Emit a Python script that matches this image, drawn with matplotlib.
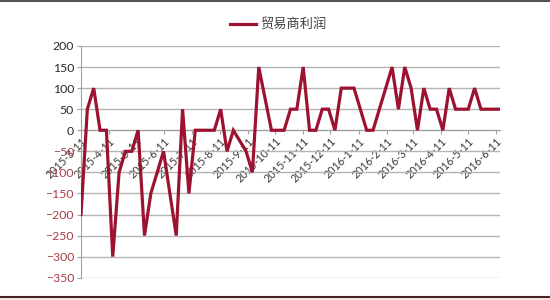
import matplotlib
matplotlib.use("Agg")
import matplotlib.pyplot as plt
from matplotlib.lines import Line2D
from matplotlib.patches import Rectangle
from matplotlib.ticker import FixedLocator, FixedFormatter
import matplotlib.dates as mdates
import pandas as pd

plt.rcParams['font.family'] = ['Lato', 'Noto Sans CJK SC', 'DejaVu Sans']

series_name = "贸易商利润"
start_date = "2015-03-11"
values = [-200, 50, 100, 0, 0, -300, -100, -50, -50, 0,
          -250, -150, -100, -50, -150, -250, 50, -150, 0, 0,
          0, 0, 50, -50, 0, -25, -50, -100, 150, 75,
          0, 0, 0, 50, 50, 150, 0, 0, 50, 50,
          0, 100, 100, 100, 50, 0, 0, 50, 100, 150,
          50, 150, 100, 0, 100, 50, 50, 0, 100, 50,
          50, 50, 100, 50, 50, 50, 50]
dates = pd.date_range(start_date, periods=len(values), freq="7D")
tick_dates = pd.date_range("2015-03-01", "2016-06-01", freq="MS") + pd.Timedelta(days=10)
tick_labels = [f"{d.year}-{d.month}-{d.day}" for d in tick_dates]
y_ticks = [200, 150, 100, 50, 0, -50, -100, -150, -200, -250, -300, -350]

fig = plt.figure(figsize=(5.5, 3.0), dpi=100)
ax = fig.add_axes([81/550, 1-277.7/300, (500-81)/550, (277.7-46)/300])

ax.plot(dates, values, color='#9c1230', lw=2.3, solid_joinstyle='miter', zorder=3)

for s in ['top', 'right']:
    ax.spines[s].set_visible(False)
ax.spines['left'].set_color('#a0a0a0')
ax.spines['bottom'].set_position(('data', 0))
ax.spines['bottom'].set_color('#a0a0a0')

ax.set_ylim(-350, 200)
ax.set_yticks(y_ticks)
ax.set_xlim(dates[0], dates[-1])
ax.xaxis.set_major_locator(FixedLocator(mdates.date2num(tick_dates)))
ax.xaxis.set_major_formatter(FixedFormatter(tick_labels))

ax.grid(axis='y', color='#b4b4b4', lw=1.0)
ax.grid(axis='x', visible=False)
ax.tick_params(axis='y', length=3, color='#a0a0a0', labelsize=8.8, pad=2)
ax.tick_params(axis='x', length=3, color='#a0a0a0', pad=1, labelsize=7.8,
               labelcolor='#383838', labelrotation=45)

fig.canvas.draw()
for lab in ax.get_xticklabels():
    lab.set_ha('right')
    lab.set_va('top')
    lab.set_rotation_mode('anchor')
for lab, v in zip(ax.get_yticklabels(), y_ticks):
    lab.set_color('#a83c46' if v < 0 else '#2a2a2a')

leg = ax.legend([series_name], loc='lower center', bbox_to_anchor=(0.47, 1.01),
                frameon=False, handlelength=2.0, handletextpad=0.3,
                prop={'family': ['Noto Sans CJK SC', 'DejaVu Sans'], 'size': 9.5})
for t in leg.get_texts():
    t.set_color('#404040')

fig.add_artist(Line2D([0, 1], [1-1/300, 1-1/300], color='#555555', lw=1.5))
fig.add_artist(Rectangle((0, 0), 1, 3/300, color='#f7e9ec', lw=0))
fig.add_artist(Line2D([0, 1], [1-296.5/300, 1-296.5/300], color='#4a2228', lw=1.5))

fig.savefig("out.png", dpi=100)
